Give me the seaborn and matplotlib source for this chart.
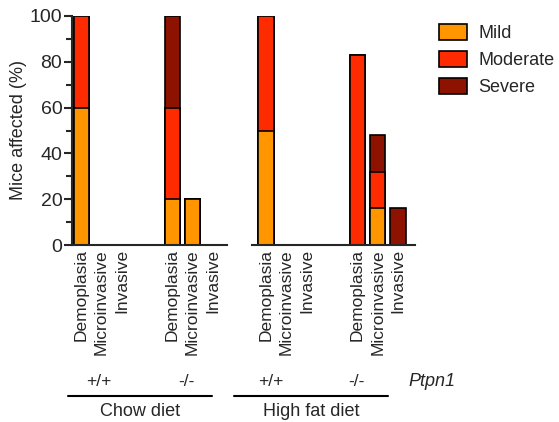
import numpy as np
import pandas as pd
import matplotlib
matplotlib.use("Agg")
import matplotlib.pyplot as plt
import seaborn as sns
from matplotlib.patches import Patch
from matplotlib.lines import Line2D
from matplotlib.ticker import MultipleLocator

# Data
categories = ['Demoplasia', 'Microinvasive', 'Invasive']
genotypes = ['+/+', '-/-']
severities = ['Mild', 'Moderate', 'Severe']

# order: +/+ (Demo, Micro, Inv), -/- (Demo, Micro, Inv)
chow_mild = [60, 0, 0, 20, 20, 0]
chow_moderate = [40, 0, 0, 40, 0, 0]
chow_severe = [0, 0, 0, 40, 0, 0]

hfd_mild = [50, 0, 0, 0, 16, 0]
hfd_moderate = [50, 0, 0, 83, 16, 0]
hfd_severe = [0, 0, 0, 0, 16, 16]

colors = {'Mild': '#FF9600', 'Moderate': '#FF2B00', 'Severe': '#8E1200'}

sns.set_style("ticks")
plt.rcParams['font.family'] = ['Liberation Sans', 'DejaVu Sans']

fig = plt.figure(figsize=(5.59, 4.22), dpi=100)
ax1 = fig.add_axes([72 / 559, 1 - 245 / 422, 155 / 559, 229 / 422])
ax2 = fig.add_axes([252 / 559, 1 - 245 / 422, 163 / 559, 229 / 422])

pos = np.array([0, 1, 2, 4.5, 5.5, 6.5])


def stacked(ax, mild, moderate, severe):
    mild = np.array(mild)
    mod = mild + np.array(moderate)
    tot = mod + np.array(severe)
    for heights, name in [(tot, 'Severe'), (mod, 'Moderate'), (mild, 'Mild')]:
        df = pd.DataFrame({'x': pos, 'y': heights})
        sns.barplot(data=df, x='x', y='y', native_scale=True, width=0.75,
                    color=colors[name], saturation=1, edgecolor='black',
                    linewidth=1.2, errorbar=None, ax=ax)
    ax.set_ylim(0, 100)
    ax.set_xticks(pos)
    ax.set_xticklabels(categories * 2, rotation=90, fontsize=12.5)
    ax.tick_params(axis='x', length=0, pad=3)
    ax.set_xlabel('')
    ax.set_ylabel('')
    for s in ['top', 'right']:
        ax.spines[s].set_visible(False)
    ax.spines['bottom'].set_linewidth(1.5)
    ax.spines['left'].set_linewidth(1.5)


stacked(ax1, chow_mild, chow_moderate, chow_severe)
stacked(ax2, hfd_mild, hfd_moderate, hfd_severe)

ax1.set_xlim(-0.45, 7.2)
ax2.set_xlim(-0.69, 7.34)

ax1.yaxis.set_major_locator(MultipleLocator(20))
ax1.yaxis.set_minor_locator(MultipleLocator(10))
ax1.tick_params(axis='y', which='major', length=6, width=1.5, labelsize=14, pad=1)
ax1.tick_params(axis='y', which='minor', length=4, width=1.5)
ax1.set_ylabel('Mice affected (%)', fontsize=13, labelpad=2)

ax2.spines['left'].set_visible(False)
ax2.set_yticks([])

# legend
handles = [Patch(facecolor=colors[s], edgecolor='black', linewidth=1.2, label=s)
           for s in severities]
fig.legend(handles=handles, loc='upper left', bbox_to_anchor=(432 / 559, 1 - 17 / 422),
           frameon=False, fontsize=13, handlelength=1.55, handleheight=0.95,
           labelspacing=0.5, handletextpad=0.6, borderaxespad=0)

# genotype and diet annotations
for x, t in [(99, '+/+'), (186, '-/-'), (271, '+/+'), (356, '-/-')]:
    fig.text(x / 559, 1 - 382 / 422, t, ha='center', va='center', fontsize=12.5)
fig.text(432 / 559, 1 - 382 / 422, 'Ptpn1', ha='center', va='center',
         fontsize=13, style='italic')

for x0, x1, label in [(68, 212, 'Chow diet'), (234, 388, 'High fat diet')]:
    fig.add_artist(Line2D([x0 / 559, x1 / 559], [1 - 396 / 422] * 2,
                          color='black', linewidth=1.5))
    fig.text((x0 + x1) / 2 / 559, 1 - 412 / 422, label, ha='center',
             va='center', fontsize=13)

fig.savefig('out.png', dpi=100)
